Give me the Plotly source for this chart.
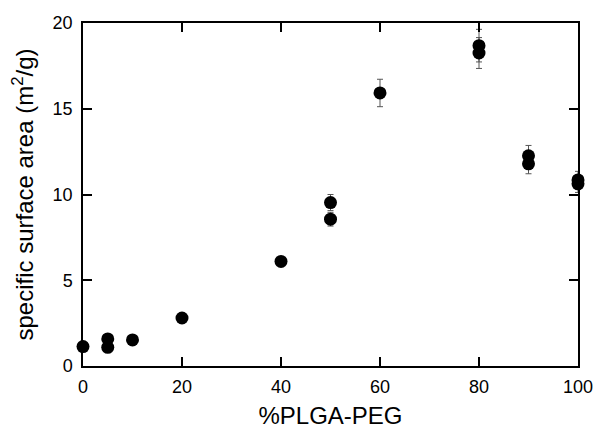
import plotly.graph_objects as go

# %PLGA-PEG content and measured specific surface area (m2/g)
pct_peg = [0, 5, 5, 10, 20, 40, 50, 50, 60, 80, 80, 90, 90, 100, 100]
ssa = [1.13, 1.58, 1.09, 1.52, 2.8, 6.1, 9.53, 8.56, 15.92, 18.68, 18.25, 12.26, 11.79, 10.85, 10.62]
ssa_err = [0.1, 0.1, 0.1, 0.1, 0.15, 0.2, 0.47, 0.4, 0.8, 0.95, 0.9, 0.6, 0.58, 0.5, 0.5]

fig = go.Figure()
fig.add_trace(go.Scatter(
    x=pct_peg, y=ssa, mode='markers',
    marker=dict(color='black', size=13),
    error_y=dict(type='data', array=ssa_err, color='#555555', thickness=1, width=3),
    cliponaxis=False, showlegend=False))

font_name = 'Liberation Sans, Arial'
axis_style = dict(showline=True, linecolor='black', linewidth=1.5, mirror='ticks',
                  ticks='inside', ticklen=9, tickwidth=1.5, tickcolor='black',
                  showgrid=False, zeroline=False, automargin=False,
                  ticklabeloverflow='allow',
                  tickfont=dict(family=font_name, size=18, color='black'))

fig.update_xaxes(range=[0, 100], dtick=20, ticklabelstandoff=4,
                 title=dict(text='%PLGA-PEG', font=dict(family=font_name, size=24, color='black'),
                            standoff=22),
                 **axis_style)
fig.update_yaxes(range=[0, 20], dtick=5, ticklabelstandoff=5,
                 title=dict(text='specific surface area (m<sup>2</sup>/g)',
                            font=dict(family=font_name, size=24, color='black'),
                            standoff=12),
                 **axis_style)

fig.update_layout(width=595, height=429, plot_bgcolor='white', paper_bgcolor='white',
                  margin=dict(l=83, r=17, t=23, b=63))

# drop the default 8px body margin so the figure fills the window
fig.write_html("out.html", config={'displayModeBar': False},
               post_script="document.body.style.margin='0px';")
